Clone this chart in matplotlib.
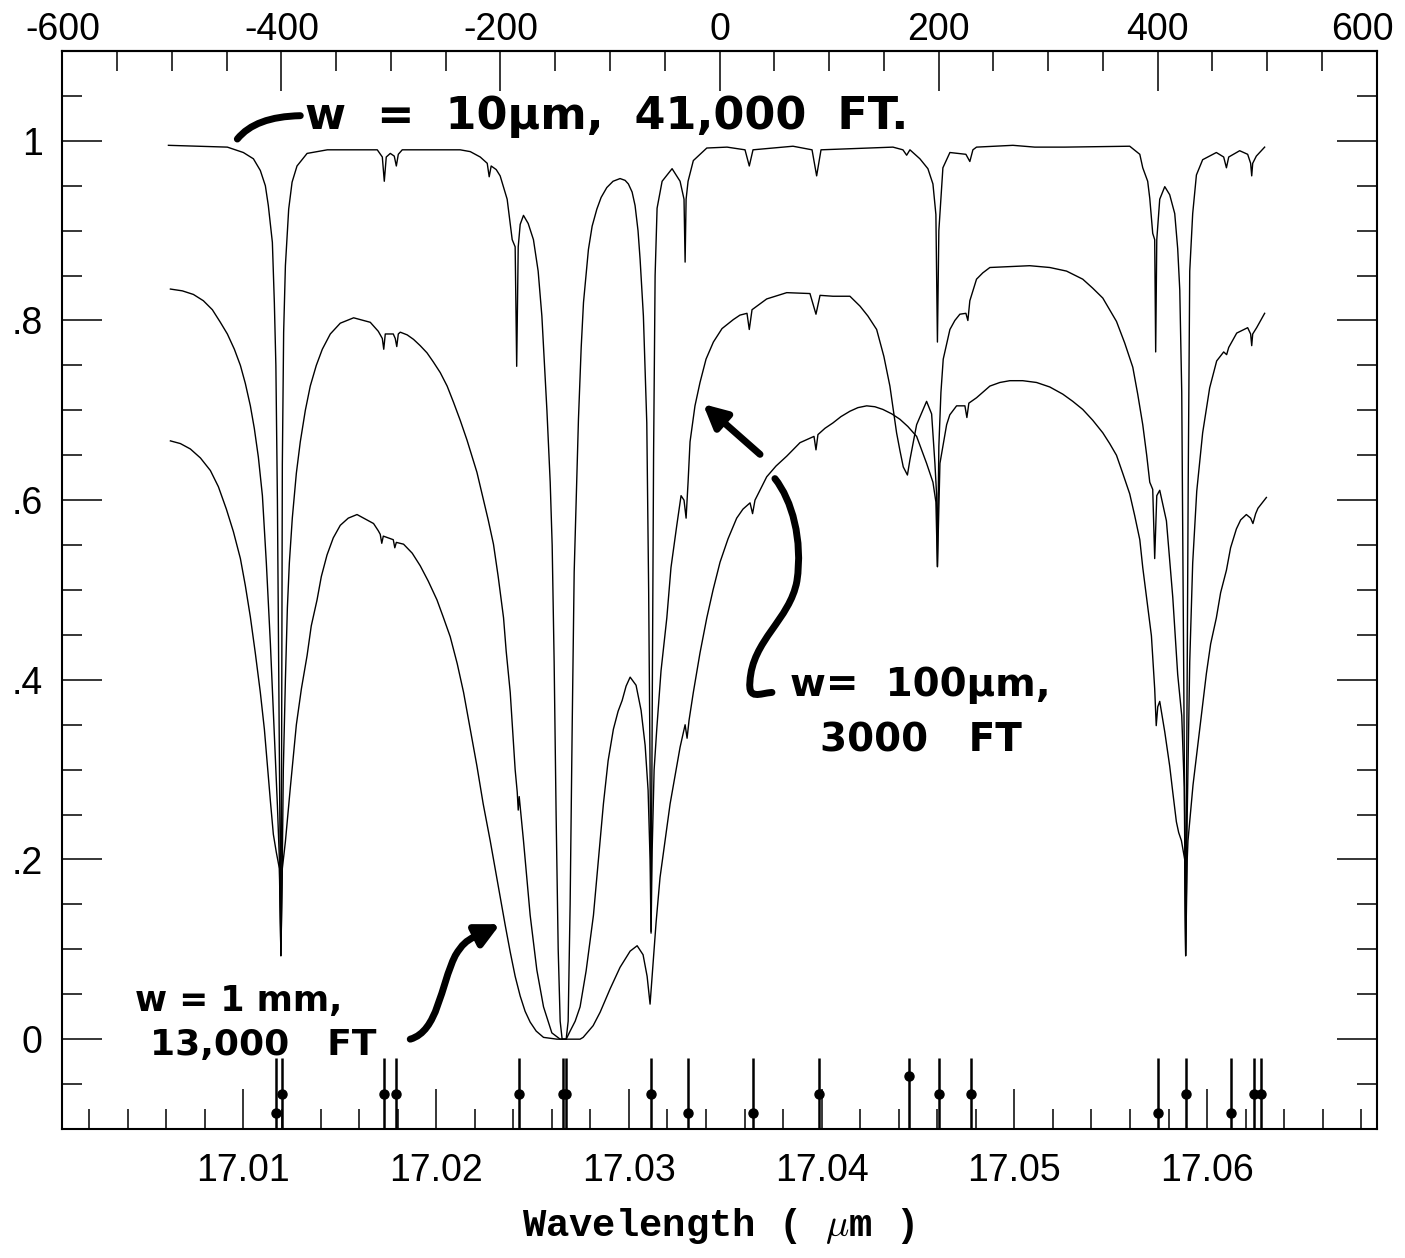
import numpy as np
import matplotlib
matplotlib.use("Agg")
import matplotlib.pyplot as plt
from matplotlib.ticker import MultipleLocator, FixedLocator, FuncFormatter
from matplotlib.path import Path
from matplotlib.patches import PathPatch

C_KMS = 299792.458
LAM0 = 17.0347   # line centre for the velocity scale (um)

# transmission, w = 10 um (41,000 ft); x in km/s relative to LAM0
vel_10um = [-503.2, -449.4, -434.8, -425.6, -419.3, -414.7, -412.0, -408.3, -406.5, -405.1,
            -403.7, -402.4, -401.5, -400.5, -399.9, -399.2, -398.0, -396.4, -393.4, -390.3,
            -385.8, -376.6, -358.1, -312.5, -307.9, -306.1, -304.3, -300.6, -297.0, -295.1,
            -293.3, -289.7, -236.8, -227.6, -218.5, -212.1, -210.3, -208.5, -203.9, -200.3,
            -193.9, -189.3, -186.6, -185.2, -183.8, -182.0, -179.0, -174.7, -169.9, -165.6,
            -162.2, -157.6, -154.6, -152.8, -151.0, -149.2, -147.3, -145.5, -143.7, -140.0,
            -138.2, -136.4, -134.5, -132.7, -130.9, -128.8, -126.3, -124.2, -119.7, -116.3,
            -112.0, -108.1, -102.9, -97.2, -90.8, -86.2, -83.2, -79.8, -77.1, -74.4,
            -72.5, -69.5, -66.4, -64.7, -63.4, -62.5,
            -61.5, -60.2, -58.8, -57.0, -52.4, -43.3, -36.0, -32.4, -31.4, -30.5,
            -28.7, -23.9, -11.6, 6.9, 23.3, 27.2, 30.6, 67.1, 84.5, 88.7,
            92.7, 158.4, 167.5, 170.9, 173.9, 183.0, 190.3, 194.9, 197.6, 199.0,
            200.3, 202.2, 204.0, 210.4, 225.0, 228.6, 231.4, 234.7, 267.9, 287.9,
            315.3, 374.6, 383.8, 386.5, 391.0, 392.9, 395.6, 397.4, 398.3, 399.3,
            402.0, 406.6, 411.1, 415.7, 418.4, 420.3, 422.1, 423.4, 424.8, 425.7,
            426.6, 428.0, 429.4, 432.1, 435.5, 441.2, 453.7, 460.4, 462.9, 465.0,
            475.0, 482.3, 485.0, 486.0, 486.9, 490.2, 497.8]
trans_10um = [0.995, 0.993, 0.987, 0.980, 0.967, 0.950, 0.928, 0.887, 0.820, 0.750,
              0.600, 0.400, 0.250, 0.093, 0.300, 0.640, 0.787, 0.861, 0.924, 0.954,
              0.972, 0.986, 0.990, 0.990, 0.982, 0.955, 0.982, 0.986, 0.983, 0.972,
              0.985, 0.990, 0.990, 0.988, 0.982, 0.975, 0.960, 0.972, 0.968, 0.961,
              0.935, 0.890, 0.882, 0.749, 0.882, 0.907, 0.917, 0.908, 0.890, 0.855,
              0.805, 0.700, 0.620, 0.550, 0.420, 0.250, 0.100, 0.020, 0.000, 0.000,
              0.020, 0.150, 0.350, 0.520, 0.600, 0.690, 0.770, 0.820, 0.879, 0.905,
              0.924, 0.937, 0.948, 0.955, 0.958, 0.956, 0.952, 0.943, 0.928, 0.900,
              0.868, 0.805, 0.686, 0.500, 0.300, 0.120,
              0.350, 0.650, 0.850, 0.925, 0.955, 0.969, 0.955, 0.935, 0.865, 0.935,
              0.955, 0.978, 0.992, 0.993, 0.990, 0.972, 0.990, 0.994, 0.990, 0.961,
              0.990, 0.993, 0.990, 0.984, 0.990, 0.980, 0.969, 0.952, 0.918, 0.776,
              0.900, 0.935, 0.970, 0.987, 0.985, 0.977, 0.990, 0.993, 0.995, 0.993,
              0.993, 0.994, 0.985, 0.970, 0.955, 0.936, 0.897, 0.890, 0.765, 0.890,
              0.935, 0.949, 0.940, 0.919, 0.880, 0.834, 0.720, 0.500, 0.250, 0.093,
              0.300, 0.620, 0.855, 0.919, 0.962, 0.979, 0.987, 0.982, 0.970, 0.982,
              0.989, 0.985, 0.975, 0.961, 0.975, 0.983, 0.993]

# w = 100 um (3000 ft)
vel_100um = [-501.4, -490.5, -480.4, -471.3, -463.1, -455.8, -449.4, -443.0, -437.5, -433.0,
             -428.4, -424.8, -421.1, -417.4, -413.8, -410.1, -406.5, -403.7, -401.9, -400.5,
             -399.2, -398.3, -396.4, -394.6, -392.8, -390.1, -386.4, -382.8, -378.2, -373.7,
             -368.2, -362.7, -355.4, -346.3, -334.1, -318.9, -311.6, -307.9, -306.6, -305.2,
             -297.9, -296.1, -294.7, -293.3, -291.5, -285.2, -279.4, -273.3, -267.1, -261.4,
             -255.0, -248.7, -242.9, -236.8, -230.6, -225.8, -221.5, -215.5, -211.2, -206.4,
             -202.1, -197.2, -194.8, -191.1, -186.6, -184.7, -183.8, -182.9, -179.0, -172.9,
             -166.8, -160.7, -153.1, -145.5, -140.0, -136.4, -131.8, -127.3, -121.8, -115.1,
             -110.9, -106.0, -101.7, -96.9, -92.6, -88.9, -85.3, -81.6, -76.2, -71.6,
             -67.9, -65.2, -63.4, -62.5, -61.5, -59.7, -57.3, -53.4, -48.1, -44.3,
             -39.0, -35.1, -32.4, -30.5, -28.7, -26.9, -22.4, -17.8, -12.3, -5.6,
             2.3, 12.6, 18.7, 25.1, 27.2, 29.7, 43.1, 61.4, 82.6, 88.1,
             91.8, 103.6, 119.1, 128.3, 135.5, 143.5, 150.1, 155.6, 161.7, 164.8,
             167.8, 171.6, 173.9, 180.0, 189.1, 193.7, 196.7, 198.2, 199.0, 200.3,
             202.2, 204.3, 210.4, 214.9, 219.5, 225.0, 226.8, 228.6, 234.7, 240.4,
             246.9, 265.1, 283.3, 301.6, 316.9, 331.7, 340.8, 350.0, 356.3, 362.5,
             370.0, 377.4, 381.9, 386.5, 390.1, 392.9, 395.6, 397.4, 399.3, 402.0,
             408.1, 413.9, 418.4, 422.1, 424.4, 425.7, 427.1, 429.4, 432.1, 435.8,
             441.2, 447.6, 454.0, 460.4, 463.1, 465.0, 472.3, 482.3, 485.0, 486.0,
             486.9, 490.5, 497.8]
trans_100um = [0.835, 0.833, 0.829, 0.822, 0.812, 0.798, 0.785, 0.768, 0.750, 0.730,
               0.705, 0.680, 0.648, 0.605, 0.530, 0.440, 0.340, 0.260, 0.200, 0.093,
               0.200, 0.300, 0.400, 0.480, 0.530, 0.580, 0.630, 0.665, 0.700, 0.727,
               0.750, 0.768, 0.785, 0.797, 0.803, 0.798, 0.788, 0.780, 0.768, 0.785,
               0.785, 0.780, 0.771, 0.785, 0.787, 0.784, 0.779, 0.772, 0.764, 0.754,
               0.742, 0.727, 0.709, 0.689, 0.667, 0.648, 0.631, 0.600, 0.578, 0.551,
               0.515, 0.469, 0.432, 0.386, 0.300, 0.275, 0.255, 0.270, 0.221, 0.138,
               0.077, 0.036, 0.007, 0.000, 0.000, 0.009, 0.020, 0.036, 0.076, 0.138,
               0.195, 0.262, 0.310, 0.345, 0.365, 0.377, 0.393, 0.403, 0.394, 0.366,
               0.327, 0.277, 0.200, 0.118, 0.210, 0.300, 0.345, 0.410, 0.469, 0.525,
               0.572, 0.605, 0.600, 0.580, 0.620, 0.665, 0.705, 0.731, 0.757, 0.776,
               0.791, 0.801, 0.806, 0.808, 0.790, 0.812, 0.824, 0.831, 0.830, 0.807,
               0.828, 0.827, 0.827, 0.816, 0.805, 0.790, 0.760, 0.727, 0.675, 0.655,
               0.637, 0.628, 0.645, 0.684, 0.710, 0.696, 0.641, 0.607, 0.526, 0.660,
               0.720, 0.757, 0.790, 0.800, 0.807, 0.808, 0.800, 0.822, 0.846, 0.853,
               0.859, 0.860, 0.861, 0.859, 0.855, 0.846, 0.836, 0.825, 0.812, 0.799,
               0.775, 0.748, 0.718, 0.684, 0.650, 0.620, 0.612, 0.535, 0.605, 0.611,
               0.577, 0.492, 0.406, 0.360, 0.280, 0.093, 0.250, 0.420, 0.530, 0.610,
               0.675, 0.725, 0.755, 0.765, 0.762, 0.770, 0.786, 0.792, 0.785, 0.772,
               0.785, 0.792, 0.808]

# w = 1 mm (13,000 ft)
vel_1mm = [-501.4, -492.3, -483.2, -474.0, -464.9, -457.6, -450.3, -443.9, -437.5, -433.0,
           -428.4, -423.9, -419.3, -415.6, -412.9, -410.1, -407.4, -404.7, -401.9, -400.5,
           -399.2, -396.4, -391.9, -386.4, -381.8, -376.6, -372.8, -367.5, -363.6, -358.4,
           -352.7, -346.3, -339.0, -331.0, -315.9, -311.6, -309.8, -308.4, -307.0, -297.9,
           -296.5, -295.1, -288.5, -280.6, -273.3, -266.0, -258.0, -252.3, -245.9, -239.5,
           -233.7, -227.7, -221.5, -215.8, -209.4, -204.9, -200.3, -195.7, -191.1, -186.6,
           -182.0, -177.5, -172.9, -167.4, -160.7, -148.5, -127.3, -124.5, -115.4, -109.0,
           -99.9, -90.8, -81.6, -75.2, -69.8, -66.1, -63.4, -61.5, -57.9, -54.3,
           -45.1, -36.0, -31.4, -29.6, -27.8, -23.9, -17.8, -11.6, -5.9, 0.5,
           7.8, 15.7, 21.4, 27.9, 30.2, 32.4, 43.1, 51.6, 61.4, 73.5,
           80.8, 86.3, 88.1, 89.9, 96.3, 103.6, 110.9, 119.1, 126.4, 134.4,
           141.9, 149.2, 157.4, 164.8, 172.0, 180.0, 183.9, 189.1, 194.9, 197.6,
           199.0, 201.3, 207.4, 210.3, 216.5, 224.1, 225.9, 227.7, 234.7, 246.9,
           256.0, 265.1, 276.9, 289.5, 301.6, 313.5, 322.6, 331.7, 340.8, 350.0,
           356.3, 362.5, 368.2, 374.6, 379.1, 383.8, 386.5, 389.9, 394.4, 397.4,
           398.8, 400.2, 402.0, 406.6, 411.1, 413.9, 417.2, 419.3, 421.8, 424.8,
           425.7, 427.1, 427.8, 432.4, 438.5, 444.6, 448.5, 453.7, 457.6, 462.9,
           466.7, 472.0, 475.9, 481.1, 485.0, 487.1, 489.6, 491.7, 499.4]
trans_1mm = [0.666, 0.663, 0.657, 0.647, 0.633, 0.615, 0.590, 0.565, 0.535, 0.505,
             0.470, 0.430, 0.386, 0.345, 0.305, 0.265, 0.228, 0.208, 0.190, 0.093,
             0.190, 0.220, 0.280, 0.350, 0.390, 0.427, 0.460, 0.489, 0.515, 0.539,
             0.558, 0.572, 0.580, 0.584, 0.574, 0.566, 0.562, 0.552, 0.560, 0.556,
             0.547, 0.553, 0.551, 0.541, 0.527, 0.510, 0.489, 0.470, 0.448, 0.418,
             0.386, 0.346, 0.304, 0.262, 0.221, 0.190, 0.159, 0.127, 0.097, 0.070,
             0.048, 0.031, 0.019, 0.009, 0.002, 0.000, 0.000, 0.002, 0.015, 0.030,
             0.056, 0.080, 0.098, 0.104, 0.094, 0.070, 0.039, 0.070, 0.130, 0.180,
             0.262, 0.325, 0.350, 0.335, 0.355, 0.386, 0.430, 0.469, 0.500, 0.531,
             0.557, 0.580, 0.590, 0.597, 0.585, 0.600, 0.626, 0.638, 0.649, 0.664,
             0.668, 0.671, 0.656, 0.673, 0.680, 0.686, 0.693, 0.699, 0.703, 0.705,
             0.704, 0.701, 0.696, 0.690, 0.682, 0.671, 0.658, 0.641, 0.620, 0.598,
             0.526, 0.641, 0.684, 0.695, 0.705, 0.705, 0.692, 0.708, 0.714, 0.727,
             0.731, 0.733, 0.733, 0.731, 0.726, 0.718, 0.710, 0.701, 0.689, 0.675,
             0.663, 0.650, 0.630, 0.607, 0.583, 0.556, 0.525, 0.492, 0.449, 0.390,
             0.349, 0.370, 0.376, 0.342, 0.304, 0.275, 0.242, 0.230, 0.221, 0.200,
             0.093, 0.200, 0.221, 0.283, 0.345, 0.407, 0.440, 0.469, 0.497, 0.522,
             0.547, 0.568, 0.578, 0.584, 0.580, 0.574, 0.585, 0.591, 0.603]

# line list along the bottom
line_vel = [-404.7, -399.2, -306.1, -295.1, -182.9, -143.2, -140.5, -62.5, -28.7, 30.6,
            90.8, 173.0, 200.3, 229.5, 400.2, 425.7, 466.8, 487.8, 494.2]
line_dot = [-0.082, -0.061, -0.061, -0.061, -0.061, -0.061, -0.061, -0.061, -0.082, -0.082,
            -0.061, -0.041, -0.061, -0.061, -0.082, -0.061, -0.082, -0.061, -0.061]

vel_ticks = [-600, -400, -200, 0, 200, 400, 600]


def v2w(v):
    return LAM0 * (1 + np.asarray(v, dtype=float) / C_KMS)


def w2v(w):
    return (np.asarray(w, dtype=float) / LAM0 - 1) * C_KMS


plt.rcParams['font.family'] = ['Liberation Sans', 'DejaVu Sans']
plt.rcParams['mathtext.fontset'] = 'cm'

fig = plt.figure(figsize=(14.05, 12.58), dpi=100)
ax = fig.add_axes([62 / 1405, 1 - 1129 / 1258, 1315 / 1405, 1078 / 1258])

for v, t in [(vel_10um, trans_10um), (vel_100um, trans_100um), (vel_1mm, trans_1mm)]:
    ax.plot(v2w(v), t, color='black', lw=1.0)

ax.vlines(v2w(line_vel), -0.1, -0.021, color='black', lw=1.8)
ax.plot(v2w(line_vel), line_dot, 'o', color='black', ms=6.5)

ax.set_xlim(v2w(-600.4), v2w(600.4))
ax.set_ylim(-0.1, 1.1)

ax.xaxis.set_major_locator(MultipleLocator(0.01))
ax.xaxis.set_minor_locator(MultipleLocator(0.002))
ax.xaxis.set_major_formatter(FuncFormatter(lambda x, p: '%.2f' % x))
ax.yaxis.set_major_locator(FixedLocator([0, 0.2, 0.4, 0.6, 0.8, 1.0]))
ax.yaxis.set_minor_locator(MultipleLocator(0.05))


def ylab(y, p):
    if abs(y) < 1e-6:
        return '0'
    if abs(y - 1) < 1e-6:
        return '1'
    return ('%.1f' % y)[1:]


ax.yaxis.set_major_formatter(FuncFormatter(ylab))

ax.tick_params(which='both', direction='in', right=True, top=False, width=1.1, labelsize=27)
ax.tick_params(which='major', length=29)
ax.tick_params(which='minor', length=14.5)
ax.tick_params(axis='x', pad=17)
ax.tick_params(axis='y', pad=14)
for s in ax.spines.values():
    s.set_linewidth(1.5)

# velocity scale on top: ticks from the secondary axis, labels written
# separately so the end labels stay inside the figure
sec = ax.secondary_xaxis('top', functions=(w2v, v2w))
sec.xaxis.set_major_locator(MultipleLocator(200))
sec.xaxis.set_minor_locator(MultipleLocator(50))
sec.xaxis.set_major_formatter(FuncFormatter(lambda v, p: ''))
sec.tick_params(which='both', direction='in', width=1.1)
sec.tick_params(which='major', length=29)
sec.tick_params(which='minor', length=14.5)
sec.spines['top'].set_linewidth(1.5)

for v in vel_ticks:
    xf = ax.transLimits.transform((v2w(v), 0))[0]
    if v == 600:
        xf -= 14 / 1315
    ax.text(xf, 1.0, '%d' % v, transform=ax.transAxes, ha='center', va='bottom',
            fontsize=27, clip_on=False,
            bbox=None).set_y(1 + 2.5 / 1078)

fig.text(718 / 1405, 1 - 1226 / 1258, 'Wavelength ( $\\mu$m )', ha='center', va='center',
         family='Liberation Mono', fontweight='bold', fontsize=28)

# hand-written notes
hand = dict(family='DejaVu Sans', fontweight='bold', color='black')
ax.text(v2w(-102.7), 1.027, 'w  =  10µm,  41,000  FT.', ha='center', va='center',
        fontsize=32, **hand)
ax.text(v2w(64.3), 0.394, 'w=  100µm,', ha='left', va='center', fontsize=28, **hand)
ax.text(v2w(91.7), 0.333, '3000   FT', ha='left', va='center', fontsize=28, **hand)
ax.text(v2w(-533.4), 0.042, 'w = 1 mm,', ha='left', va='center', fontsize=25, **hand)
ax.text(v2w(-519.8), -0.006, '13,000   FT', ha='left', va='center', fontsize=26, **hand)

# leader to the 10 um curve
p1 = Path([(v2w(-440.3), 1.002), (v2w(-423.9), 1.027), (v2w(-382.8), 1.028)],
          [Path.MOVETO, Path.CURVE3, Path.CURVE3])
ax.add_patch(PathPatch(p1, fill=False, lw=5, color='black', capstyle='round'))

# s-shaped stroke and arrow for the 100 um note
s_pts = [(50.6, 0.624), (66.2, 0.600), (76.2, 0.556), (70.7, 0.510),
         (64.3, 0.467), (29.7, 0.444), (27.8, 0.398),
         (26.0, 0.377), (37.0, 0.385), (47.9, 0.386)]
s_codes = [Path.MOVETO] + [Path.CURVE4] * 9
p2 = Path([(v2w(a), b) for a, b in s_pts], s_codes)
ax.add_patch(PathPatch(p2, fill=False, lw=5, color='black', capstyle='round'))
ax.annotate('', xy=(v2w(-15.1), 0.707), xytext=(v2w(37.0), 0.651),
            arrowprops=dict(arrowstyle='-|>', lw=5, color='black', mutation_scale=35,
                            shrinkA=0, shrinkB=0))

# curved arrow for the 1 mm note
a_pts = [(-282.4, 0.000), (-256.9, 0.009), (-255.0, 0.059), (-241.3, 0.093),
         (-234.9, 0.106), (-231.3, 0.109), (-224.0, 0.114)]
a_codes = [Path.MOVETO] + [Path.CURVE4] * 6
p3 = Path([(v2w(a), b) for a, b in a_pts], a_codes)
ax.add_patch(PathPatch(p3, fill=False, lw=5, color='black', capstyle='round'))
ax.annotate('', xy=(v2w(-200.3), 0.128), xytext=(v2w(-225.0), 0.113),
            arrowprops=dict(arrowstyle='-|>', lw=5, color='black', mutation_scale=35,
                            shrinkA=0, shrinkB=0))

fig.savefig('out.png', dpi=100)
